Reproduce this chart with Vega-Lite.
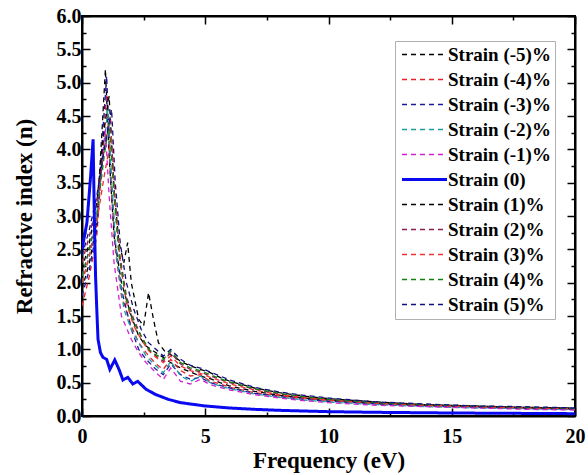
{
"$schema": "https://vega.github.io/schema/vega-lite/v6.json",
"autosize": "none",
"width": 493, "height": 400,
"padding": {"left": 82, "top": 16, "right": 13, "bottom": 59},
"background": "white",
"datasets": {
"c": [
{"s":"Strain (-5)%","f":0,"n":1.9},{"s":"Strain (-5)%","f":0.3,"n":2.3},{"s":"Strain (-5)%","f":0.6,"n":2.9},{"s":"Strain (-5)%","f":0.8,"n":4.2},{"s":"Strain (-5)%","f":0.95,"n":5.2},{"s":"Strain (-5)%","f":1.1,"n":3.9},{"s":"Strain (-5)%","f":1.3,"n":2.7},{"s":"Strain (-5)%","f":1.6,"n":2.0},{"s":"Strain (-5)%","f":2.0,"n":1.5},{"s":"Strain (-5)%","f":2.3,"n":1.2},{"s":"Strain (-5)%","f":2.6,"n":1.05},{"s":"Strain (-5)%","f":3.0,"n":0.95},{"s":"Strain (-5)%","f":3.3,"n":0.88},{"s":"Strain (-5)%","f":3.6,"n":0.8},{"s":"Strain (-5)%","f":4.0,"n":0.72},{"s":"Strain (-5)%","f":4.4,"n":0.66},{"s":"Strain (-5)%","f":4.8,"n":0.6},{"s":"Strain (-5)%","f":5.2,"n":0.56},{"s":"Strain (-5)%","f":5.6,"n":0.5},{"s":"Strain (-5)%","f":6,"n":0.45},{"s":"Strain (-5)%","f":7,"n":0.37},{"s":"Strain (-5)%","f":8,"n":0.31},{"s":"Strain (-5)%","f":9,"n":0.27},{"s":"Strain (-5)%","f":10,"n":0.24},{"s":"Strain (-5)%","f":12,"n":0.19},{"s":"Strain (-5)%","f":14,"n":0.16},{"s":"Strain (-5)%","f":16,"n":0.14},{"s":"Strain (-5)%","f":18,"n":0.12},{"s":"Strain (-5)%","f":20,"n":0.11},
{"s":"Strain (-4)%","f":0,"n":1.65},{"s":"Strain (-4)%","f":0.3,"n":2.1},{"s":"Strain (-4)%","f":0.6,"n":2.7},{"s":"Strain (-4)%","f":0.85,"n":4.0},{"s":"Strain (-4)%","f":1.0,"n":4.9},{"s":"Strain (-4)%","f":1.15,"n":3.6},{"s":"Strain (-4)%","f":1.35,"n":2.5},{"s":"Strain (-4)%","f":1.6,"n":1.8},{"s":"Strain (-4)%","f":2.0,"n":1.35},{"s":"Strain (-4)%","f":2.3,"n":1.1},{"s":"Strain (-4)%","f":2.6,"n":0.95},{"s":"Strain (-4)%","f":3.0,"n":0.78},{"s":"Strain (-4)%","f":3.3,"n":0.7},{"s":"Strain (-4)%","f":3.6,"n":0.85},{"s":"Strain (-4)%","f":4.0,"n":0.68},{"s":"Strain (-4)%","f":4.4,"n":0.6},{"s":"Strain (-4)%","f":4.8,"n":0.62},{"s":"Strain (-4)%","f":5.2,"n":0.52},{"s":"Strain (-4)%","f":5.6,"n":0.48},{"s":"Strain (-4)%","f":6,"n":0.43},{"s":"Strain (-4)%","f":7,"n":0.35},{"s":"Strain (-4)%","f":8,"n":0.3},{"s":"Strain (-4)%","f":9,"n":0.26},{"s":"Strain (-4)%","f":10,"n":0.23},{"s":"Strain (-4)%","f":12,"n":0.18},{"s":"Strain (-4)%","f":14,"n":0.15},{"s":"Strain (-4)%","f":16,"n":0.13},{"s":"Strain (-4)%","f":18,"n":0.12},{"s":"Strain (-4)%","f":20,"n":0.1},
{"s":"Strain (-3)%","f":0,"n":1.8},{"s":"Strain (-3)%","f":0.3,"n":2.2},{"s":"Strain (-3)%","f":0.6,"n":2.8},{"s":"Strain (-3)%","f":0.85,"n":4.3},{"s":"Strain (-3)%","f":1.0,"n":5.1},{"s":"Strain (-3)%","f":1.15,"n":3.8},{"s":"Strain (-3)%","f":1.35,"n":2.6},{"s":"Strain (-3)%","f":1.6,"n":1.9},{"s":"Strain (-3)%","f":2.0,"n":1.3},{"s":"Strain (-3)%","f":2.3,"n":1.0},{"s":"Strain (-3)%","f":2.6,"n":0.85},{"s":"Strain (-3)%","f":3.0,"n":0.7},{"s":"Strain (-3)%","f":3.3,"n":0.62},{"s":"Strain (-3)%","f":3.6,"n":0.78},{"s":"Strain (-3)%","f":4.0,"n":0.62},{"s":"Strain (-3)%","f":4.4,"n":0.55},{"s":"Strain (-3)%","f":4.8,"n":0.58},{"s":"Strain (-3)%","f":5.2,"n":0.5},{"s":"Strain (-3)%","f":5.6,"n":0.46},{"s":"Strain (-3)%","f":6,"n":0.42},{"s":"Strain (-3)%","f":7,"n":0.34},{"s":"Strain (-3)%","f":8,"n":0.29},{"s":"Strain (-3)%","f":9,"n":0.25},{"s":"Strain (-3)%","f":10,"n":0.22},{"s":"Strain (-3)%","f":12,"n":0.18},{"s":"Strain (-3)%","f":14,"n":0.15},{"s":"Strain (-3)%","f":16,"n":0.13},{"s":"Strain (-3)%","f":18,"n":0.11},{"s":"Strain (-3)%","f":20,"n":0.1},
{"s":"Strain (-2)%","f":0,"n":2.0},{"s":"Strain (-2)%","f":0.3,"n":2.4},{"s":"Strain (-2)%","f":0.6,"n":3.0},{"s":"Strain (-2)%","f":0.85,"n":3.9},{"s":"Strain (-2)%","f":1.05,"n":4.6},{"s":"Strain (-2)%","f":1.2,"n":3.5},{"s":"Strain (-2)%","f":1.4,"n":2.4},{"s":"Strain (-2)%","f":1.7,"n":1.6},{"s":"Strain (-2)%","f":2.0,"n":1.3},{"s":"Strain (-2)%","f":2.3,"n":1.1},{"s":"Strain (-2)%","f":2.6,"n":0.9},{"s":"Strain (-2)%","f":3.0,"n":0.75},{"s":"Strain (-2)%","f":3.3,"n":0.65},{"s":"Strain (-2)%","f":3.6,"n":0.82},{"s":"Strain (-2)%","f":4.0,"n":0.6},{"s":"Strain (-2)%","f":4.4,"n":0.52},{"s":"Strain (-2)%","f":4.8,"n":0.6},{"s":"Strain (-2)%","f":5.2,"n":0.5},{"s":"Strain (-2)%","f":5.6,"n":0.45},{"s":"Strain (-2)%","f":6,"n":0.41},{"s":"Strain (-2)%","f":7,"n":0.33},{"s":"Strain (-2)%","f":8,"n":0.28},{"s":"Strain (-2)%","f":9,"n":0.24},{"s":"Strain (-2)%","f":10,"n":0.21},{"s":"Strain (-2)%","f":12,"n":0.17},{"s":"Strain (-2)%","f":14,"n":0.14},{"s":"Strain (-2)%","f":16,"n":0.12},{"s":"Strain (-2)%","f":18,"n":0.11},{"s":"Strain (-2)%","f":20,"n":0.095},
{"s":"Strain (-1)%","f":0,"n":2.1},{"s":"Strain (-1)%","f":0.3,"n":2.5},{"s":"Strain (-1)%","f":0.6,"n":3.0},{"s":"Strain (-1)%","f":0.8,"n":3.8},{"s":"Strain (-1)%","f":0.95,"n":4.3},{"s":"Strain (-1)%","f":1.1,"n":3.3},{"s":"Strain (-1)%","f":1.3,"n":2.3},{"s":"Strain (-1)%","f":1.6,"n":1.5},{"s":"Strain (-1)%","f":2.0,"n":1.15},{"s":"Strain (-1)%","f":2.3,"n":0.95},{"s":"Strain (-1)%","f":2.6,"n":0.8},{"s":"Strain (-1)%","f":3.0,"n":0.65},{"s":"Strain (-1)%","f":3.3,"n":0.55},{"s":"Strain (-1)%","f":3.6,"n":0.72},{"s":"Strain (-1)%","f":4.0,"n":0.52},{"s":"Strain (-1)%","f":4.4,"n":0.48},{"s":"Strain (-1)%","f":4.8,"n":0.55},{"s":"Strain (-1)%","f":5.2,"n":0.47},{"s":"Strain (-1)%","f":5.6,"n":0.43},{"s":"Strain (-1)%","f":6,"n":0.39},{"s":"Strain (-1)%","f":7,"n":0.32},{"s":"Strain (-1)%","f":8,"n":0.27},{"s":"Strain (-1)%","f":9,"n":0.23},{"s":"Strain (-1)%","f":10,"n":0.2},{"s":"Strain (-1)%","f":12,"n":0.16},{"s":"Strain (-1)%","f":14,"n":0.14},{"s":"Strain (-1)%","f":16,"n":0.12},{"s":"Strain (-1)%","f":18,"n":0.1},{"s":"Strain (-1)%","f":20,"n":0.09},
{"s":"Strain (1)%","f":0,"n":2.2},{"s":"Strain (1)%","f":0.3,"n":2.6},{"s":"Strain (1)%","f":0.6,"n":3.2},{"s":"Strain (1)%","f":0.9,"n":4.3},{"s":"Strain (1)%","f":1.1,"n":4.8},{"s":"Strain (1)%","f":1.3,"n":3.4},{"s":"Strain (1)%","f":1.5,"n":2.6},{"s":"Strain (1)%","f":1.7,"n":2.3},{"s":"Strain (1)%","f":1.85,"n":2.6},{"s":"Strain (1)%","f":2.0,"n":2.0},{"s":"Strain (1)%","f":2.3,"n":1.45},{"s":"Strain (1)%","f":2.5,"n":1.35},{"s":"Strain (1)%","f":2.7,"n":1.85},{"s":"Strain (1)%","f":2.9,"n":1.45},{"s":"Strain (1)%","f":3.1,"n":1.1},{"s":"Strain (1)%","f":3.4,"n":0.95},{"s":"Strain (1)%","f":3.7,"n":0.9},{"s":"Strain (1)%","f":4.0,"n":0.82},{"s":"Strain (1)%","f":4.4,"n":0.75},{"s":"Strain (1)%","f":4.8,"n":0.7},{"s":"Strain (1)%","f":5.2,"n":0.65},{"s":"Strain (1)%","f":5.6,"n":0.58},{"s":"Strain (1)%","f":6,"n":0.52},{"s":"Strain (1)%","f":7,"n":0.42},{"s":"Strain (1)%","f":8,"n":0.35},{"s":"Strain (1)%","f":9,"n":0.3},{"s":"Strain (1)%","f":10,"n":0.26},{"s":"Strain (1)%","f":12,"n":0.21},{"s":"Strain (1)%","f":14,"n":0.17},{"s":"Strain (1)%","f":16,"n":0.15},{"s":"Strain (1)%","f":18,"n":0.13},{"s":"Strain (1)%","f":20,"n":0.12},
{"s":"Strain (2)%","f":0,"n":2.3},{"s":"Strain (2)%","f":0.3,"n":2.7},{"s":"Strain (2)%","f":0.6,"n":3.2},{"s":"Strain (2)%","f":0.9,"n":4.0},{"s":"Strain (2)%","f":1.15,"n":4.5},{"s":"Strain (2)%","f":1.3,"n":3.4},{"s":"Strain (2)%","f":1.5,"n":2.5},{"s":"Strain (2)%","f":1.8,"n":1.8},{"s":"Strain (2)%","f":2.1,"n":1.45},{"s":"Strain (2)%","f":2.4,"n":1.2},{"s":"Strain (2)%","f":2.7,"n":1.0},{"s":"Strain (2)%","f":3.0,"n":0.9},{"s":"Strain (2)%","f":3.3,"n":0.82},{"s":"Strain (2)%","f":3.6,"n":0.95},{"s":"Strain (2)%","f":4.0,"n":0.78},{"s":"Strain (2)%","f":4.4,"n":0.7},{"s":"Strain (2)%","f":4.8,"n":0.66},{"s":"Strain (2)%","f":5.2,"n":0.6},{"s":"Strain (2)%","f":5.6,"n":0.55},{"s":"Strain (2)%","f":6,"n":0.5},{"s":"Strain (2)%","f":7,"n":0.4},{"s":"Strain (2)%","f":8,"n":0.33},{"s":"Strain (2)%","f":9,"n":0.28},{"s":"Strain (2)%","f":10,"n":0.25},{"s":"Strain (2)%","f":12,"n":0.2},{"s":"Strain (2)%","f":14,"n":0.17},{"s":"Strain (2)%","f":16,"n":0.14},{"s":"Strain (2)%","f":18,"n":0.13},{"s":"Strain (2)%","f":20,"n":0.11},
{"s":"Strain (3)%","f":0,"n":2.0},{"s":"Strain (3)%","f":0.3,"n":2.4},{"s":"Strain (3)%","f":0.6,"n":2.9},{"s":"Strain (3)%","f":0.9,"n":3.6},{"s":"Strain (3)%","f":1.2,"n":4.2},{"s":"Strain (3)%","f":1.35,"n":3.2},{"s":"Strain (3)%","f":1.55,"n":2.3},{"s":"Strain (3)%","f":1.8,"n":1.7},{"s":"Strain (3)%","f":2.1,"n":1.35},{"s":"Strain (3)%","f":2.4,"n":1.15},{"s":"Strain (3)%","f":2.7,"n":0.98},{"s":"Strain (3)%","f":3.0,"n":0.88},{"s":"Strain (3)%","f":3.3,"n":0.8},{"s":"Strain (3)%","f":3.6,"n":0.9},{"s":"Strain (3)%","f":4.0,"n":0.75},{"s":"Strain (3)%","f":4.4,"n":0.68},{"s":"Strain (3)%","f":4.8,"n":0.64},{"s":"Strain (3)%","f":5.2,"n":0.58},{"s":"Strain (3)%","f":5.6,"n":0.53},{"s":"Strain (3)%","f":6,"n":0.48},{"s":"Strain (3)%","f":7,"n":0.39},{"s":"Strain (3)%","f":8,"n":0.32},{"s":"Strain (3)%","f":9,"n":0.28},{"s":"Strain (3)%","f":10,"n":0.24},{"s":"Strain (3)%","f":12,"n":0.19},{"s":"Strain (3)%","f":14,"n":0.16},{"s":"Strain (3)%","f":16,"n":0.14},{"s":"Strain (3)%","f":18,"n":0.12},{"s":"Strain (3)%","f":20,"n":0.11},
{"s":"Strain (4)%","f":0,"n":2.1},{"s":"Strain (4)%","f":0.3,"n":2.5},{"s":"Strain (4)%","f":0.6,"n":3.0},{"s":"Strain (4)%","f":0.9,"n":3.9},{"s":"Strain (4)%","f":1.1,"n":4.4},{"s":"Strain (4)%","f":1.3,"n":3.3},{"s":"Strain (4)%","f":1.5,"n":2.4},{"s":"Strain (4)%","f":1.8,"n":1.75},{"s":"Strain (4)%","f":2.1,"n":1.4},{"s":"Strain (4)%","f":2.4,"n":1.2},{"s":"Strain (4)%","f":2.7,"n":1.0},{"s":"Strain (4)%","f":3.0,"n":0.92},{"s":"Strain (4)%","f":3.3,"n":0.85},{"s":"Strain (4)%","f":3.6,"n":0.98},{"s":"Strain (4)%","f":4.0,"n":0.8},{"s":"Strain (4)%","f":4.4,"n":0.72},{"s":"Strain (4)%","f":4.8,"n":0.68},{"s":"Strain (4)%","f":5.2,"n":0.62},{"s":"Strain (4)%","f":5.6,"n":0.56},{"s":"Strain (4)%","f":6,"n":0.51},{"s":"Strain (4)%","f":7,"n":0.41},{"s":"Strain (4)%","f":8,"n":0.34},{"s":"Strain (4)%","f":9,"n":0.29},{"s":"Strain (4)%","f":10,"n":0.25},{"s":"Strain (4)%","f":12,"n":0.2},{"s":"Strain (4)%","f":14,"n":0.17},{"s":"Strain (4)%","f":16,"n":0.15},{"s":"Strain (4)%","f":18,"n":0.13},{"s":"Strain (4)%","f":20,"n":0.115},
{"s":"Strain (5)%","f":0,"n":2.4},{"s":"Strain (5)%","f":0.3,"n":2.8},{"s":"Strain (5)%","f":0.6,"n":3.3},{"s":"Strain (5)%","f":0.9,"n":4.0},{"s":"Strain (5)%","f":1.2,"n":4.6},{"s":"Strain (5)%","f":1.35,"n":3.5},{"s":"Strain (5)%","f":1.55,"n":2.6},{"s":"Strain (5)%","f":1.8,"n":2.0},{"s":"Strain (5)%","f":2.1,"n":1.6},{"s":"Strain (5)%","f":2.4,"n":1.3},{"s":"Strain (5)%","f":2.7,"n":1.1},{"s":"Strain (5)%","f":3.0,"n":1.0},{"s":"Strain (5)%","f":3.3,"n":0.9},{"s":"Strain (5)%","f":3.6,"n":1.0},{"s":"Strain (5)%","f":4.0,"n":0.85},{"s":"Strain (5)%","f":4.4,"n":0.76},{"s":"Strain (5)%","f":4.8,"n":0.72},{"s":"Strain (5)%","f":5.2,"n":0.66},{"s":"Strain (5)%","f":5.6,"n":0.6},{"s":"Strain (5)%","f":6,"n":0.54},{"s":"Strain (5)%","f":7,"n":0.43},{"s":"Strain (5)%","f":8,"n":0.36},{"s":"Strain (5)%","f":9,"n":0.31},{"s":"Strain (5)%","f":10,"n":0.27},{"s":"Strain (5)%","f":12,"n":0.21},{"s":"Strain (5)%","f":14,"n":0.18},{"s":"Strain (5)%","f":16,"n":0.15},{"s":"Strain (5)%","f":18,"n":0.14},{"s":"Strain (5)%","f":20,"n":0.12},
{"s":"Strain (0)","f":0,"n":2.5},{"s":"Strain (0)","f":0.2,"n":2.9},{"s":"Strain (0)","f":0.35,"n":3.6},{"s":"Strain (0)","f":0.45,"n":4.15},{"s":"Strain (0)","f":0.5,"n":3.0},{"s":"Strain (0)","f":0.55,"n":2.1},{"s":"Strain (0)","f":0.6,"n":1.6},{"s":"Strain (0)","f":0.65,"n":1.15},{"s":"Strain (0)","f":0.75,"n":0.95},{"s":"Strain (0)","f":0.85,"n":0.88},{"s":"Strain (0)","f":1.0,"n":0.85},{"s":"Strain (0)","f":1.13,"n":0.7},{"s":"Strain (0)","f":1.33,"n":0.84},{"s":"Strain (0)","f":1.5,"n":0.7},{"s":"Strain (0)","f":1.66,"n":0.54},{"s":"Strain (0)","f":1.86,"n":0.58},{"s":"Strain (0)","f":2.06,"n":0.48},{"s":"Strain (0)","f":2.26,"n":0.52},{"s":"Strain (0)","f":2.6,"n":0.4},{"s":"Strain (0)","f":3.0,"n":0.32},{"s":"Strain (0)","f":3.5,"n":0.25},{"s":"Strain (0)","f":4,"n":0.2},{"s":"Strain (0)","f":5,"n":0.15},{"s":"Strain (0)","f":6,"n":0.12},{"s":"Strain (0)","f":7,"n":0.1},{"s":"Strain (0)","f":8,"n":0.085},{"s":"Strain (0)","f":10,"n":0.065},{"s":"Strain (0)","f":12,"n":0.055},{"s":"Strain (0)","f":15,"n":0.045},{"s":"Strain (0)","f":17.5,"n":0.04},{"s":"Strain (0)","f":20,"n":0.035}
]},
"data": {"name": "c"},
"layer": [
{
"mark": {"type": "line", "clip": true},
"encoding": {
"x": {"field": "f", "type": "quantitative", "scale": {"domain": [0, 20], "nice": false},
"axis": {"title": "Frequency (eV)", "values": [0,2.5,5,7.5,10,12.5,15,17.5,20], "labelExpr": "datum.value % 5 === 0 ? format(datum.value, 'd') : ''", "grid": false,
"domainColor": "black", "domainWidth": 2, "tickColor": "black", "tickWidth": 1.5,
"tickSize": {"condition": {"test": "datum.value % 5 === 0", "value": -8}, "value": -4},
"labelFont": "Liberation Serif", "labelFontSize": 20, "labelFontWeight": "bold", "labelColor": "black", "labelPadding": 18, "labelFlush": false,
"titleFont": "Liberation Serif", "titleFontSize": 23, "titleFontWeight": "bold", "titleColor": "black", "titlePadding": 3}},
"y": {"field": "n", "type": "quantitative", "scale": {"domain": [0, 6], "nice": false},
"axis": {"title": "Refractive index (n)", "values": [0,0.25,0.5,0.75,1,1.25,1.5,1.75,2,2.25,2.5,2.75,3,3.25,3.5,3.75,4,4.25,4.5,4.75,5,5.25,5.5,5.75,6], "labelExpr": "(datum.value*2) % 1 === 0 ? format(datum.value, '.1f') : ''", "grid": false,
"domainColor": "black", "domainWidth": 2, "tickColor": "black", "tickWidth": 1.5,
"tickSize": {"condition": {"test": "(datum.value*2) % 1 === 0", "value": -8}, "value": -4},
"labelFont": "Liberation Serif", "labelFontSize": 20, "labelFontWeight": "bold", "labelColor": "black", "labelPadding": 9, "labelFlush": false,
"titleFont": "Liberation Serif", "titleFontSize": 23, "titleFontWeight": "bold", "titleColor": "black", "titlePadding": 20}},
"color": {"field": "s", "type": "nominal", "title": null,
"scale": {"domain": ["Strain (-5)%","Strain (-4)%","Strain (-3)%","Strain (-2)%","Strain (-1)%","Strain (0)","Strain (1)%","Strain (2)%","Strain (3)%","Strain (4)%","Strain (5)%"],
"range": ["#000000","#e8202a","#1a1a9a","#18a0a0","#d020d0","#0a0af0","#000000","#8a2050","#f03030","#108010","#101080"]},
"legend": {"orient": "none", "legendX": 313, "legendY": 25,
"encode": {"symbols": {"update": {"strokeWidth": {"signal": "datum.value === 'Strain (0)' ? 3 : 1.3"}}}}}},
"strokeDash": {"field": "s", "type": "nominal", "title": null,
"scale": {"domain": ["Strain (-5)%","Strain (-4)%","Strain (-3)%","Strain (-2)%","Strain (-1)%","Strain (0)","Strain (1)%","Strain (2)%","Strain (3)%","Strain (4)%","Strain (5)%"],
"range": [[5,4],[5,4],[5,4],[5,4],[5,4],[1,0],[5,4],[5,4],[5,4],[5,4],[5,4]]}},
"strokeWidth": {"condition": {"test": "datum.s === 'Strain (0)'", "value": 3}, "value": 1.3},
"order": {"field": "f"}
}
},
{
"mark": {"type": "line", "opacity": 0},
"encoding": {
"detail": {"field": "s"},
"x": {"field": "f", "type": "quantitative", "axis": {"orient": "top", "title": null, "labels": false, "values": [0,2.5,5,7.5,10,12.5,15,17.5,20], "grid": false, "domainColor": "black", "domainWidth": 2, "tickColor": "black", "tickWidth": 1.5, "tickSize": {"condition": {"test": "datum.value % 5 === 0", "value": -8}, "value": -4}}},
"y": {"field": "n", "type": "quantitative", "axis": {"orient": "right", "title": null, "labels": false, "values": [0,0.25,0.5,0.75,1,1.25,1.5,1.75,2,2.25,2.5,2.75,3,3.25,3.5,3.75,4,4.25,4.5,4.75,5,5.25,5.5,5.75,6], "grid": false, "domainColor": "black", "domainWidth": 2, "tickColor": "black", "tickWidth": 1.5, "tickSize": {"condition": {"test": "(datum.value*2) % 1 === 0", "value": -8}, "value": -4}}}
}
}
],
"resolve": {"axis": {"x": "independent", "y": "independent"}},
"config": {
"font": "Liberation Serif",
"view": {"stroke": "black", "strokeWidth": 2},
"legend": {"strokeColor": "#b0b0b0", "strokeWidth": 1, "fillColor": "white", "padding": 4,
"labelFont": "Liberation Serif", "labelFontSize": 19, "labelFontWeight": "bold", "labelColor": "black", "labelLimit": 0, "labelOffset": 14,
"symbolType": "M-3.75,0H3.75", "symbolSize": 144, "symbolOffset": 16, "rowPadding": 5}
}
}
